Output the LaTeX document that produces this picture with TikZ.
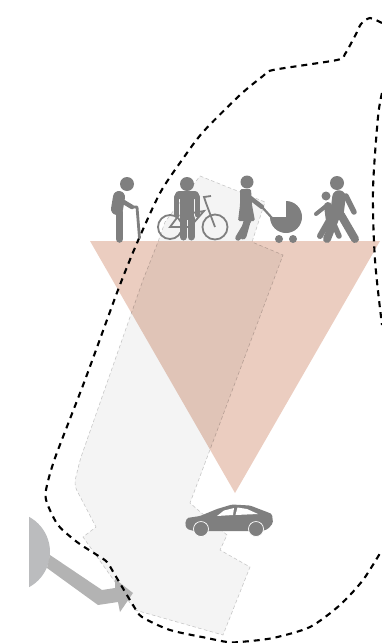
\documentclass[tikz,border=0pt]{standalone}
\usepackage{tikz}
\definecolor{figgray}{RGB}{127,127,127}
\definecolor{wedge}{RGB}{235,205,192}
\definecolor{zonegray}{RGB}{244,244,244}
\definecolor{arrowgray}{RGB}{179,179,179}
\definecolor{hubgray}{RGB}{187,188,190}
\tikzset{>=latex,
  zone/.style={fill=zonegray, draw=black!22, line width=0.6pt, dash pattern=on 3.5pt off 2.5pt},
  route/.style={draw=black, line width=2.1pt, dash pattern=on 6pt off 5pt},
  limb/.style={draw=figgray, line cap=round, line join=round, line width=#1},
  limb/.default=7pt,
  solid figure/.style={fill=figgray, draw=none}
}

\begin{document}
\begin{tikzpicture}[x=1pt, y=-1pt]
\useasboundingbox (0,0) rectangle (382,643);

% zone and wedge
\draw[zone] (200,176) -- (265,202) -- (252,242) -- (283,255) -- (190,503) -- (227,535) -- (220,550) -- (250,567) -- (223,635) -- (135,610) -- (83,537) -- (96,527) [rounded corners=6pt] -- (74,485) -- (80,460) [sharp corners] -- (143,280) -- (158,242) -- (165,222) -- cycle;
\fill[wedge, blend mode=multiply] (90,241) -- (380,241) -- (235,493) -- cycle;

% hub and arrow
\begin{scope}
\clip (29,500) rectangle (80,600);
\fill[hubgray] (10,552) circle[radius=40];
\end{scope}
\fill[arrowgray] (50,555) -- (102,590) -- (115,588) -- (115,579) -- (133,593) -- (120,612) -- (118,602) -- (98,605) -- (47,568) -- cycle;

% routes
\draw[route] plot[smooth, tension=0.45] coordinates {(382,23) (370,18) (361,24) (356,34) (345,54) (337,60) (273,70) (263,76) (240,95) (203,132) (182,160) (160,193) (137,243) (118,290) (85,380) (55,458) (46,490) (47,503) (58,525) (77,542) (97,555) (107,562) (115,575) (133,605) (142,617) (170,630) (207,638) (227,642) (240,642) (273,638) (310,627) (340,605) (363,580) (382,550)};
\draw[route] plot[smooth, tension=0.5] coordinates {(382,93) (378,117) (373,190) (375,260) (382,325)};

% old man
\fill[solid figure] (127,184) circle[radius=7];
\draw[limb=12pt] (119,197) -- (117,209);
\draw[limb=7.5pt] (119.5,212) -- (119.5,239);
\draw[limb=4.5pt] (122,201) -- (132,207);
\draw[limb=2.8pt] (132,207) -- (137,207) -- (139.5,238);

% bike
\begin{scope}[draw=figgray, line width=1.8pt]
\draw (170,227) circle[radius=12];
\draw (215,227) circle[radius=12.5];
\draw (179,215) -- (170,227) -- (190,227) -- (204,211) -- (180,215);
\draw (215,227) -- (206,203) -- (204,197) -- (211,196);
\end{scope}

% man
\fill[solid figure] (187,184) circle[radius=7];
\fill[solid figure, rounded corners=3pt] (176,191) -- (198,191) -- (200,199) -- (174,199) -- cycle;
\fill[solid figure] (180,195) rectangle (194,220);
\draw[limb=5pt] (176.5,197) -- (176.5,215);
\draw[limb=5pt] (197.5,197) -- (197.5,215);
\draw[limb=7pt] (183.5,218) -- (183.5,237);
\draw[limb=7pt] (191,218) -- (191,237);

% woman
\fill[solid figure] (247,182) circle[radius=6.5];
\fill[solid figure, rounded corners=1.5pt] (240,189) -- (251,189) -- (252,205) -- (255,221) -- (238,221) -- (240,205) -- cycle;
\draw[limb=7pt] (248,218) -- (243,236);
\draw[limb=5.5pt] (250,218) -- (238,238);
\draw[limb=4.5pt] (249,197) -- (262,207);

% pram
\draw[limb=2.2pt] (262,207) -- (272,218);
\fill[solid figure] (286,217) -- (286,201) arc[start angle=-90, end angle=180, radius=16] -- cycle;
\fill[solid figure] (279,239) circle[radius=4];
\fill[solid figure] (293,239) circle[radius=4];

% child and adult
\fill[solid figure] (326,196) circle[radius=4.5];
\draw[limb=8pt] (328,206) -- (330,221);
\draw[limb=4pt] (326,206) -- (316,214);
\draw[limb=6pt] (328,222) -- (320,236);
\draw[limb=5.5pt] (332,220) -- (339,236);
\fill[solid figure] (337,183) circle[radius=7];
\draw[limb=13.5pt] (339,197) -- (337,213);
\draw[limb=5.5pt] (346,196) -- (354,212);
\draw[limb=8pt] (336,216) -- (327,239);
\draw[limb=8pt] (341,215) -- (355,239);

% car
\fill[solid figure, rounded corners=1.5pt] (185,524) -- (187,518) -- (200,516) -- (217,509) -- (232,504.5) -- (250,505.5) -- (267,512) -- (272,514) -- (273,523) -- (268,529) -- (262,531) -- (194,531) -- (187,529) -- cycle;
\fill[white] (217,516) -- (224,510.5) -- (234,508) -- (233,515) -- cycle;
\fill[white] (235.5,515) -- (237.5,507.5) -- (247,509) -- (258,514) -- cycle;
\draw[solid figure, draw=white, line width=0.7pt] (201,529) circle[radius=7.5];
\draw[solid figure, draw=white, line width=0.7pt] (256,529) circle[radius=7.5];
\end{tikzpicture}
\end{document}
